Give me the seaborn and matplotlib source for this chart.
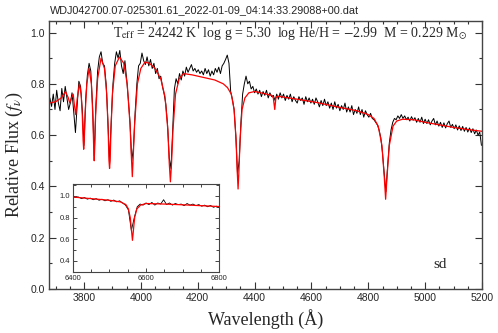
import numpy as np
import pandas as pd
import matplotlib
matplotlib.use("Agg")
import matplotlib.pyplot as plt
from matplotlib.ticker import MultipleLocator
import seaborn as sns

# observed spectrum, sampled every 6 A from 3680 A
obs_start, obs_step = 3680, 6
obs_flux = [
    .745, .712, .760, .700, .775, .725, .695, .782, .730, .790,
    .745, .700, .725, .765, .690, .610, .715, .810, .790, .700,
    .560, .740, .835, .880, .850, .720, .520, .720, .850, .905,
    .925, .880, .870, .800, .660, .490, .660, .800, .880, .925,
    .900, .930, .870, .840, .890, .820, .740, .650, .500, .550,
    .690, .800, .870, .880, .920, .890, .875, .905, .870, .895,
    .860, .880, .840, .860, .820, .830, .790, .760, .720, .640,
    .510, .470, .620, .780, .820, .800, .840, .815, .850, .830,
    .865, .845, .860, .875, .850, .860, .845, .855, .840, .850,
    .835, .860, .840, .855, .830, .850, .835, .860, .845, .865,
    .840, .870, .880, .895, .912, .880, .770, .740, .700, .600,
    .450, .500, .650, .760, .800, .830, .800, .810, .780, .790,
    .765, .780, .760, .775, .750, .770, .755, .775, .745, .765,
    .750, .755, .735, .760, .740, .765, .745, .760, .735, .755,
    .740, .760, .730, .750, .735, .725, .750, .735, .745, .720,
    .750, .730, .745, .725, .740, .720, .745, .730, .710, .735,
    .715, .740, .715, .730, .705, .725, .700, .730, .705, .720,
    .695, .715, .700, .725, .690, .710, .690, .715, .680, .700,
    .685, .710, .680, .700, .670, .695, .680, .670, .685, .665,
    .660, .650, .640, .620, .590, .530, .450, .380, .480, .570,
    .620, .650, .665, .660, .675, .665, .680, .665, .675, .660,
    .670, .655, .672, .658, .668, .650, .665, .650, .670, .645,
    .662, .645, .660, .640, .655, .665, .640, .655, .635, .650,
    .630, .648, .628, .645, .655, .630, .642, .625, .640, .620,
    .636, .618, .634, .615, .630, .612, .628, .610, .625, .605,
    .620, .600, .612, .560,
]
obs_wave = obs_start + obs_step * np.arange(len(obs_flux))

# best-fit model
model_wave = [
    3677, 3700, 3720, 3735, 3745, 3750, 3756, 3762, 3766, 3771, 3776,
    3784, 3790, 3794, 3797, 3799, 3801, 3804, 3810, 3818, 3826, 3831,
    3834, 3836, 3838, 3841, 3848, 3860, 3872, 3880, 3885, 3888, 3890,
    3892, 3895, 3900, 3910, 3925, 3940, 3952, 3962, 3967, 3970, 3973,
    3978, 3988, 4000, 4015, 4030, 4050, 4070, 4085, 4095, 4100, 4104,
    4108, 4113, 4122, 4135, 4150, 4180, 4220, 4260, 4290, 4305, 4318,
    4328, 4335, 4339, 4342, 4345, 4349, 4356, 4366, 4380, 4400, 4430,
    4460, 4466, 4471, 4475, 4480, 4550, 4620, 4700, 4760, 4800, 4820,
    4835, 4848, 4856, 4861, 4866, 4874, 4887, 4900, 4920, 4960, 5000,
    5050, 5100, 5150, 5200,
]
model_flux = [
    .725, .730, .745, .770, .745, .725, .745, .760, .720, .680, .740,
    .800, .760, .680, .580, .545, .580, .680, .800, .860, .800, .680,
    .560, .500, .560, .680, .820, .900, .860, .760, .620, .500, .470,
    .500, .620, .760, .870, .905, .880, .800, .640, .510, .438, .510,
    .640, .800, .860, .885, .880, .860, .820, .750, .620, .490, .418,
    .490, .620, .760, .820, .840, .835, .825, .815, .800, .785, .760,
    .700, .580, .460, .390, .460, .580, .700, .745, .765, .770, .763,
    .755, .745, .700, .745, .752, .740, .727, .708, .695, .680, .665,
    .635, .560, .440, .350, .440, .560, .635, .655, .662, .660, .650,
    .640, .630, .622, .615,
]

# H-alpha inset, observed every 8 A from 6400 A
ha_start, ha_step = 6400, 8
ha_obs = [
    .995, .985, .990, .975, .985, .970, .980, .965, .975, .960,
    .970, .955, .965, .950, .962, .945, .955, .935, .915, .870,
    .680, .800, .900, .925, .915, .935, .920, .940, .915, .935,
    .925, .965, .920, .935, .915, .930, .920, .925, .910, .930,
    .915, .925, .910, .920, .905, .915, .900, .912, .895, .905,
    .895,
]
ha_wave = ha_start + ha_step * np.arange(len(ha_obs))
ha_model_wave = [6400, 6450, 6500, 6530, 6545, 6552, 6557, 6561, 6563,
                 6565, 6569, 6575, 6585, 6600, 6650, 6700, 6750, 6800]
ha_model_flux = [.990, .975, .960, .945, .920, .880, .800, .660, .590,
                 .660, .800, .880, .915, .930, .925, .918, .910, .902]

title = "WDJ042700.07-025301.61_2022-01-09_04:14:33.29088+00.dat"
params = (r"T$_{\rm eff}$ = 24242 K  log g = 5.30  log He/H = $-$2.99"
          r"  M = 0.229 M$_{\odot}$")

sns.set_style("ticks")
plt.rcParams["font.family"] = ["Liberation Sans", "DejaVu Sans"]
plt.rcParams["mathtext.fontset"] = "stix"
serif = ["Liberation Serif", "DejaVu Serif"]

fig = plt.figure(figsize=(4.98, 3.33), dpi=100)
ax = fig.add_axes([0.0984, 0.132, 0.8695, 0.805])

sns.lineplot(x=obs_wave, y=obs_flux, ax=ax, color="black", lw=0.7,
             estimator=None, sort=False)
sns.lineplot(x=model_wave, y=model_flux, ax=ax, color="#ff0000", lw=0.9,
             estimator=None, sort=False)

ax.set_xlim(3677, 5200)
ax.set_ylim(0, 1.045)
ax.xaxis.set_major_locator(MultipleLocator(200))
ax.xaxis.set_minor_locator(MultipleLocator(50))
ax.yaxis.set_major_locator(MultipleLocator(0.2))
ax.yaxis.set_minor_locator(MultipleLocator(0.1))
ax.yaxis.set_major_formatter(matplotlib.ticker.FormatStrFormatter("%.1f"))
ax.tick_params(which="both", direction="in", top=True, right=True,
               labelsize=7.5, pad=3, width=0.8, color="#333333")
ax.tick_params(which="major", length=5)
ax.tick_params(which="minor", length=2.5)
for s in ax.spines.values():
    s.set_linewidth(1.0)
    s.set_color("#444444")

ax.set_xlabel("Wavelength (Å)", family=serif, fontsize=13, labelpad=4)
ax.set_ylabel(r"Relative Flux ($f_\nu$)", family=serif, fontsize=13,
              labelpad=4)
ax.text(5028, 0.094, "sd", family=serif, fontsize=11, va="center",
        ha="left")

fig.text(50 / 498, 1 - 10 / 333, title, fontsize=7.8, va="center",
         ha="left")
fig.text(113 / 498, 1 - 34 / 333, params, family=serif, fontsize=10,
         va="center", ha="left")

# inset
axi = fig.add_axes([0.146, 0.184, 0.2944, 0.2634])
sns.lineplot(x=ha_wave, y=ha_obs, ax=axi, color="black", lw=0.6,
             estimator=None, sort=False)
sns.lineplot(x=ha_model_wave, y=ha_model_flux, ax=axi, color="#ff0000",
             lw=0.9, estimator=None, sort=False)
axi.set_xlim(6400, 6800)
axi.set_ylim(0.3, 1.11)
axi.xaxis.set_major_locator(MultipleLocator(200))
axi.xaxis.set_minor_locator(MultipleLocator(50))
axi.yaxis.set_major_locator(MultipleLocator(0.2))
axi.yaxis.set_minor_locator(MultipleLocator(0.1))
axi.yaxis.set_major_formatter(matplotlib.ticker.FormatStrFormatter("%.1f"))
axi.tick_params(which="both", direction="in", top=True, right=True,
                labelsize=5.5, pad=2, width=0.6)
axi.tick_params(which="major", length=3)
axi.tick_params(which="minor", length=2)
for s in axi.spines.values():
    s.set_linewidth(0.8)
    s.set_color("#444444")
axi.set_xlabel("")
axi.set_ylabel("")

fig.savefig("out.png", dpi=100)
